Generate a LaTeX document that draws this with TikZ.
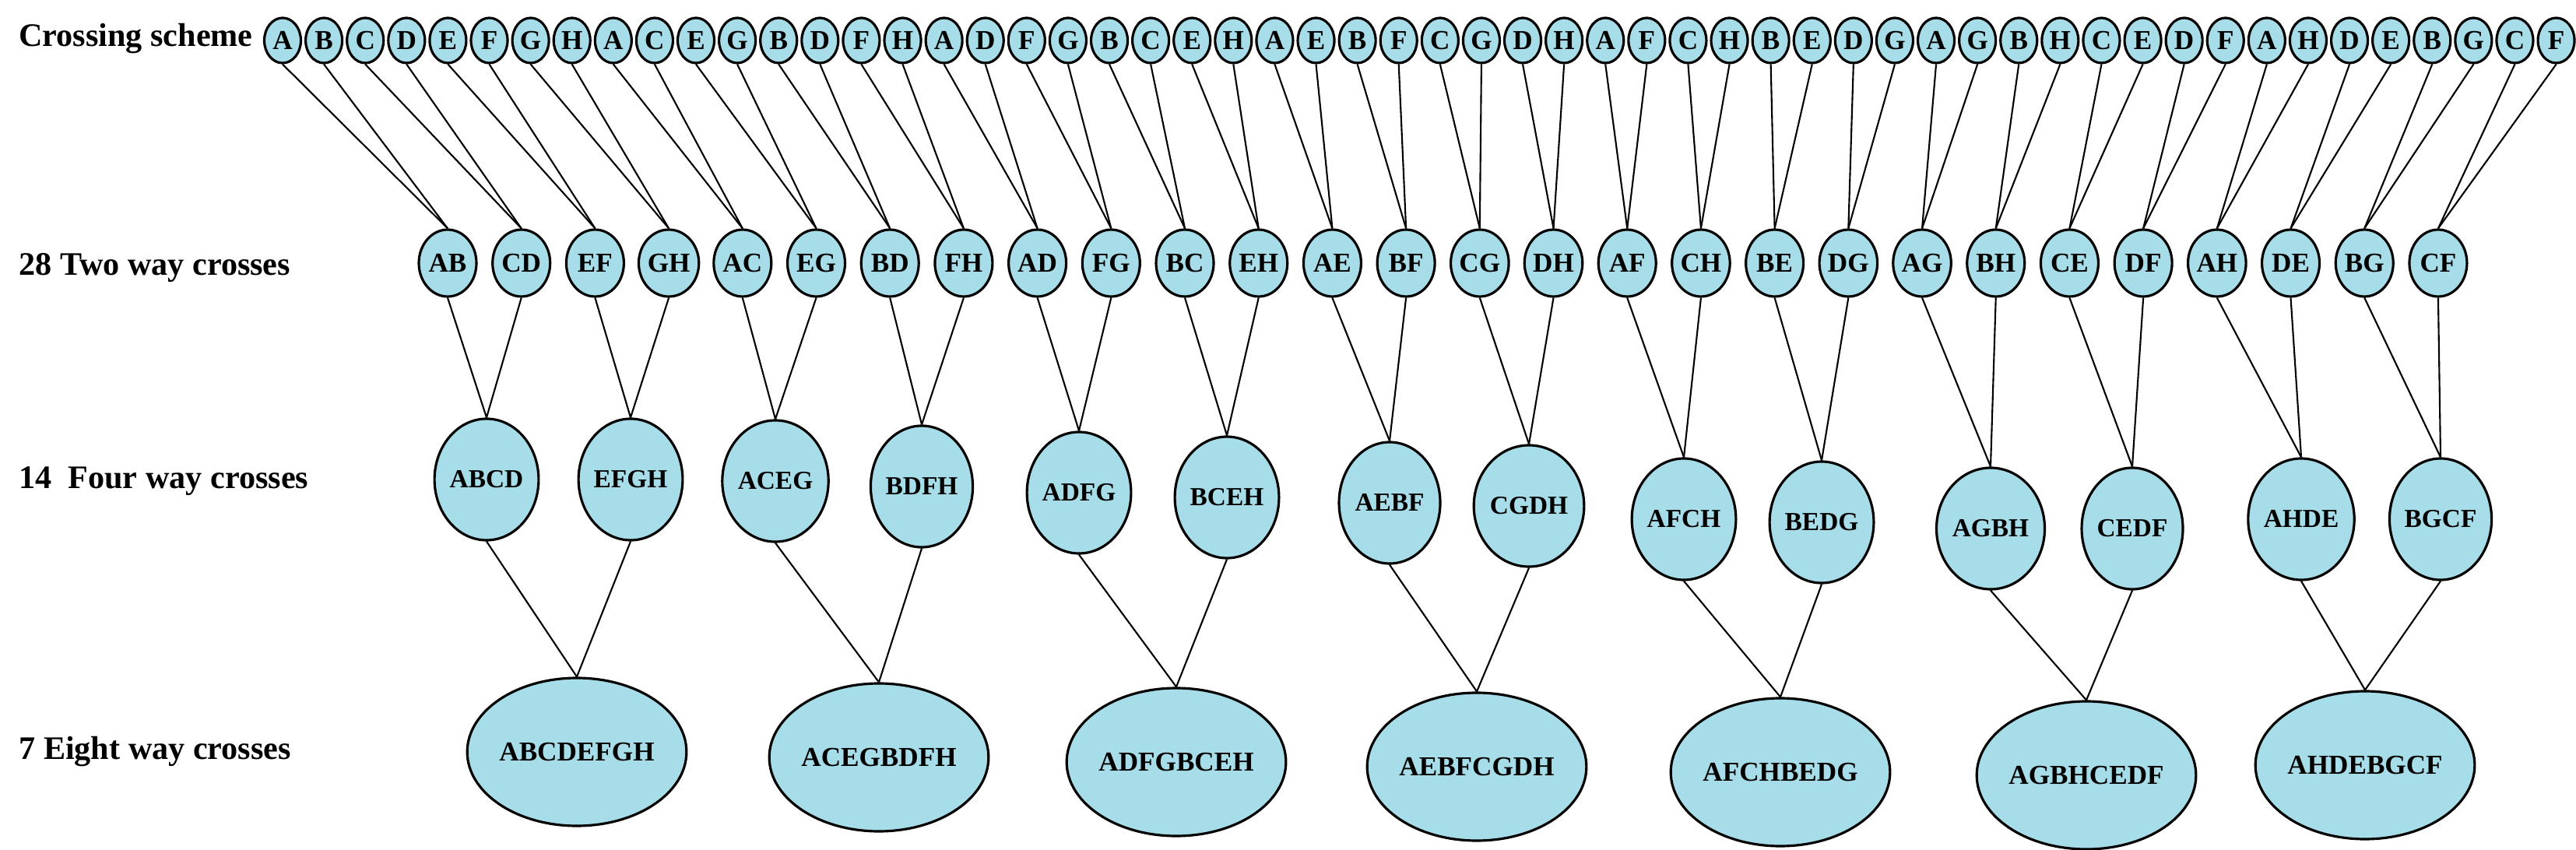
\documentclass[tikz,border=0pt]{standalone}
\usepackage{fontspec}
\setmainfont{Liberation Serif}
\usetikzlibrary{shapes.geometric}
\definecolor{nodefill}{HTML}{A6DDE8}
\tikzset{
 bub/.style={ellipse,draw=black,line width=0.9pt,fill=nodefill,inner sep=0pt,font=\bfseries\fontsize{10}{10}\selectfont},
 tnode/.style={bub,minimum width=0.47cm,minimum height=0.58cm},
 rnode/.style={bub,minimum width=0.74cm,minimum height=0.86cm},
 fnode/.style={bub,minimum width=1.30cm,minimum height=1.56cm,font=\bfseries\fontsize{9.5}{10}\selectfont},
 enode/.style={bub,minimum width=2.38cm,minimum height=1.90cm,font=\bfseries\fontsize{10}{10}\selectfont},
 lbl/.style={anchor=west,font=\bfseries\fontsize{12}{12}\selectfont},
 link/.style={draw=black,line width=0.6pt}
}
\begin{document}
\begin{tikzpicture}
\useasboundingbox (0,0) rectangle (33.09,-10.92);
\node[lbl] (l1) at (0.12,-0.50) {Crossing scheme};
\node[lbl] (l2) at (0.12,-3.44) {28 Two way crosses};
\node[lbl] (l3) at (0.12,-6.18) {14\ \ Four way crosses};
\node[lbl] (l4) at (0.12,-9.66) {7 Eight way crosses};
\foreach \s [count=\i from 0] in {A,B,C,D,E,F,G,H,A,C,E,G,B,D,F,H,A,D,F,G,B,C,E,H,A,E,B,F,C,G,D,H,A,F,C,H,B,E,D,G,A,G,B,H,C,E,D,F,A,H,D,E,B,G,C,F}
  \node[tnode] (t\i) at ({3.63+0.531*\i},-0.52) {\s};
\foreach \s [count=\i from 0] in {AB,CD,EF,GH,AC,EG,BD,FH,AD,FG,BC,EH,AE,BF,CG,DH,AF,CH,BE,DG,AG,BH,CE,DF,AH,DE,BG,CF}
  \node[rnode] (r\i) at ({5.75+0.947*\i},-3.38) {\s};
\foreach \s/\x/\y [count=\i from 0] in {ABCD/6.25/6.16,EFGH/8.10/6.16,ACEG/9.96/6.18,BDFH/11.84/6.25,ADFG/13.86/6.33,BCEH/15.76/6.39,AEBF/17.85/6.46,CGDH/19.64/6.50,AFCH/21.63/6.67,BEDG/23.40/6.71,AGBH/25.57/6.79,CEDF/27.39/6.79,AHDE/29.56/6.67,BGCF/31.35/6.67}
  \node[fnode] (f\i) at (\x,-\y) {\s};
\foreach \s/\x/\y [count=\i from 0] in {ABCDEFGH/7.41/9.66,ACEGBDFH/11.29/9.73,ADFGBCEH/15.11/9.79,AEBFCGDH/18.97/9.85,AFCHBEDG/22.87/9.92,AGBHCEDF/26.80/9.96,AHDEBGCF/30.38/9.83}
  \node[enode] (e\i) at (\x,-\y) {\s};
\foreach \i in {0,...,55}{
  \pgfmathtruncatemacro{\p}{int(\i/2)}
  \draw[link] (t\i.south) -- (r\p.north);}
\foreach \i in {0,...,27}{
  \pgfmathtruncatemacro{\p}{int(\i/2)}
  \draw[link] (r\i.south) -- (f\p.north);}
\foreach \i in {0,...,13}{
  \pgfmathtruncatemacro{\p}{int(\i/2)}
  \draw[link] (f\i.south) -- (e\p.north);}
\end{tikzpicture}
\end{document}
